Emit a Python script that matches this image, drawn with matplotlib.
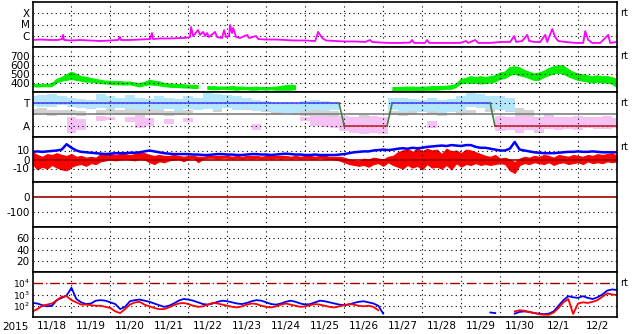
import numpy as np
import matplotlib.pyplot as plt

plt.rcParams['font.family'] = ['DejaVu Sans']
plt.rcParams['axes.unicode_minus'] = False
nan = np.nan

# time grid, hours from 2015-11-18 00UT
hours3 = np.arange(0, 361, 3)
hours6 = np.arange(0, 361, 6)
day_labels = ['11/18', '11/19', '11/20', '11/21', '11/22', '11/23', '11/24', '11/25',
              '11/26', '11/27', '11/28', '11/29', '11/30', '12/1', '12/2']

# X-ray flux (W/m2)
xray_h = [0.3, 4.6, 10.8, 15.7, 18.2, 18.8, 19.4, 23.1, 29.3, 35.4, 41.6, 47.8, 52.7, 53.9, 54.5,
          60.1, 66.2, 72.4, 73.6, 74.2, 78.6, 84.7, 90.9, 93.9, 97.0, 97.7, 98.9, 102, 103.2,
          105.1, 106.3, 107.5, 108.7, 112.4, 113.7, 116.8, 118, 119.2, 121.1, 121.7, 122.9,
          123.6, 125.4, 127.8, 132.2, 133.4, 137.7, 139, 143.3, 149.4, 155.6, 161.7, 167.9,
          174.1, 175.9, 178.4, 180.8, 186.4, 192.5, 198.7, 204.9, 207.9, 209.2, 214.1, 220.2,
          226.4, 232.6, 233.8, 235, 241.8, 243, 244.3, 251.1, 257.2, 263.4, 267.1, 268.3,
          272.6, 274.5, 281.9, 288.1, 294.2, 296.7, 297.9, 301.6, 304.7, 305.9, 309.6, 312.7,
          315.8, 317, 320.1, 321.9, 323.8, 328.1, 334.3, 339.2, 340.4, 342.3, 344.7, 349.7,
          354.6, 355.8, 360]
xray_f = [4.2e-7, 4.6e-7, 4.2e-7, 4.2e-7, 5.1e-7, 1.2e-6, 4.2e-7, 3.8e-7, 4.2e-7, 3.8e-7,
          3.4e-7, 3.8e-7, 4.2e-7, 7.7e-7, 4.2e-7, 4.2e-7, 4.6e-7, 5.1e-7, 1.75e-6, 5.1e-7,
          5.7e-7, 5.7e-7, 6.3e-7, 6.3e-7, 7.7e-7, 6.0e-6, 9.5e-7, 3.2e-6, 1.2e-6, 2.2e-6,
          9.5e-7, 1.75e-6, 7.7e-7, 2.2e-6, 7.7e-7, 6.3e-7, 3.2e-6, 7.7e-7, 9.5e-7, 9.0e-6,
          1.75e-6, 4.9e-6, 7.7e-7, 6.3e-7, 1.2e-6, 6.3e-7, 9.5e-7, 5.1e-7, 4.6e-7, 4.6e-7,
          4.2e-7, 3.8e-7, 3.8e-7, 3.4e-7, 2.2e-6, 6.3e-7, 3.8e-7, 3.4e-7, 3.1e-7, 3.1e-7,
          2.8e-7, 4.2e-7, 2.8e-7, 2.5e-7, 2.3e-7, 2.3e-7, 2.5e-7, 4.2e-7, 2.3e-7, 2.3e-7,
          4.2e-7, 2.3e-7, 2.3e-7, 2.3e-7, 2.3e-7, 3.4e-7, 2.3e-7, 4.2e-7, 2.3e-7, 2.3e-7,
          2.8e-7, 2.8e-7, 9.5e-7, 2.8e-7, 3.4e-7, 1.2e-6, 3.4e-7, 2.8e-7, 2.8e-7, 1.2e-6,
          2.8e-7, 4.0e-6, 7.7e-7, 3.4e-7, 2.8e-7, 2.3e-7, 2.3e-7, 2.6e-6, 4.2e-7, 2.3e-7,
          2.3e-7, 1.2e-6, 2.3e-7, 2.8e-7]

# solar wind speed (km/s), 3-hour band
speed_lo = ([360, 355, 360, 358, 360, 400, 420, 430, 440, 430, 420, 410, 410, 400, 395,
             390, 385, 380, 380, 378, 380, 370, 356, 370, 380, 375, 370, 360, 355, 350,
             350, 345, 345, 340, 340, nan,
             330, 325, 325, 330, 325, 325, 320, 325, 325, 320, 320, 325, 320, 325, 320,
             320, 320, 320, 325] + [nan] * 19 +
            [310, 305, 310, 310, 315, 315, 315, 320, 320, 320, 325, 330, 330, 350, 390,
             400, 395, 400, 390, 395, 400, 410, 440, 450, 480, 500, 480, 470, 450, 430,
             430, 460, 480, 500, 510, 500, 470, 450, 430, 420, 410, 400, 410, 400, 400,
             390, 350])
speed_hi = ([385, 385, 380, 385, 390, 440, 460, 490, 520, 500, 470, 465, 450, 440, 430,
             420, 420, 415, 415, 410, 410, 400, 395, 405, 430, 420, 415, 395, 390, 385,
             385, 380, 375, 375, 370, nan,
             360, 360, 355, 355, 355, 360, 355, 355, 350, 350, 355, 350, 350, 350, 355,
             360, 370, 375, 370] + [nan] * 19 +
            [350, 350, 350, 355, 355, 350, 355, 355, 360, 360, 360, 365, 370, 385, 440,
             450, 470, 460, 470, 460, 470, 480, 510, 520, 570, 580, 570, 540, 520, 500,
             510, 530, 560, 580, 590, 590, 550, 520, 500, 490, 480, 470, 480, 470, 470,
             460, 440])

# T/A panel: 6-hour ranges of the three point clouds (T=3, A=1)
cyan_lo = ([2.76, 2.7, 2.7, 2.8, 2.7, 2.6, 2.5, 2.6, 2.5, 2.6, 2.5, 2.4, 2.5, 2.4, 2.5, 2.3,
            2.5, 2.4, 2.5, 2.4, 2.6, 2.4, 2.5, 2.3, 2.3, 2.2, 2.1, 2.1, 2.3, 2.4, 2.3, 2.4]
           + [nan] * 5 + [2.4, 2.2, 2.3, 2.2, 2.3, 2.1, 2.2, 2.3, 2.7, 2.6, 2.5, 2.4, 2.3]
           + [nan] * 11)
cyan_hi = ([3.64, 3.7, 3.8, 3.6, 3.5, 3.4, 3.3, 3.8, 3.6, 3.5, 3.7, 3.5, 3.4, 3.6, 3.5, 3.4,
            3.6, 3.5, 3.9, 3.8, 3.7, 3.6, 3.5, 3.3, 3.2, 3.0, 3.0, 2.9, 3.2, 3.3, 3.2, 3.1]
           + [nan] * 5 + [3.5, 3.5, 3.4, 3.3, 3.5, 3.3, 3.4, 3.6, 3.9, 3.8, 3.6, 3.6, 3.5]
           + [nan] * 11)
gray_lo = [2.0, 2.1, 1.9, 2.0, 2.0, 1.9, nan, 2.0, 2.1, 2.0, 2.0, 1.9, 2.0, 2.0, 1.9, 2.0,
           2.1, nan, 2.6, 2.2, 2.7, 2.6, 2.4, 2.5, 2.2, 2.0, nan, 2.0, 1.9, 1.8, 1.9, 1.8,
           1.3, nan, 1.5, nan, 1.2, 2.0, 1.9, 2.0, nan, 2.0, 1.9, nan, 2.0, 2.1, nan, 2.2,
           2.4, 2.2, 1.8, 0.6, 0.4, 0.8, 0.6, 0.8, nan, 1.0, 0.9, 1.1, nan]
gray_hi = [2.5, 2.6, 2.4, 2.4, 2.4, 2.3, nan, 2.4, 2.5, 2.4, 2.5, 2.4, 2.5, 2.5, 2.3, 2.5,
           2.4, nan, 2.9, 2.6, 3.0, 3.0, 2.8, 2.9, 2.7, 2.4, nan, 2.4, 2.5, 2.4, 2.6, 2.3,
           1.9, nan, 2.0, nan, 1.6, 2.3, 2.3, 2.4, nan, 2.4, 2.2, nan, 2.3, 2.4, nan, 2.6,
           3.0, 3.2, 2.6, 2.4, 1.8, 2.0, 1.6, 1.5, nan, 1.8, 1.5, 1.9, nan]
pink_lo = ([nan, nan, nan, nan, 0.4, 0.6, nan, 1.4, 1.5, nan, 1.3, 0.8, 1.0, nan, 1.2, nan, 1.3]
           + [nan] * 6 + [0.6] + [nan] * 4 + [1.4, 1.0, 0.9, 0.8, 0.5, 0.4, 0.3, 0.4, 0.3]
           + [nan] * 4 + [0.8] + [nan] * 6
           + [0.5, 0.6, 0.4, 0.6, 0.5, 0.7, 0.6, 0.7, 0.6, 0.8, 0.7, 0.7, 0.8])
pink_hi = ([nan, nan, nan, nan, 1.8, 1.6, nan, 1.9, 1.8, nan, 1.8, 1.9, 1.7, nan, 1.6, nan, 1.7]
           + [nan] * 6 + [1.2] + [nan] * 4 + [1.8, 1.9, 1.9, 1.8, 1.9, 1.8, 1.7, 1.9, 1.8]
           + [nan] * 4 + [1.4] + [nan] * 6
           + [1.9, 1.8, 1.9, 1.9, 1.7, 1.9, 1.8, 1.8, 1.9, 1.7, 1.8, 1.9, 1.7])
mode_h = [0, 188.8, 192, 218.4, 221.5, 281.9, 284.8, 360]
mode_v = [3, 3, 1, 1, 3, 3, 1, 1]

# magnetic field (nT)
bt = [8.5, 9, 8.5, 9, 9.5, 10, 11, 17, 13, 10,
      8.5, 8, 7.5, 7, 6.5, 6, 6.5, 7, 7, 7,
      7.5, 7.5, 8, 9, 10, 9, 8, 7, 6.5, 6,
      6, 6, 6, 5.5, 5.5, 5, 5, 5.5, 6, 6,
      5.5, 5.5, 5, 5, 5.5, 6, 6, 5.5, 5.5, 5,
      5.5, 6, 6.5, 6, 5.5, 5.5, 5, 5, 5.5, 5,
      5, 5, 5, 5.5, 6, 7, 8, 8.5, 9, 9,
      10, 10.5, 11, 10.5, 11, 12, 12.5, 12, 13, 12.5,
      13, 14, 14.5, 15, 15.5, 15, 16, 15.5, 15, 16,
      16, 14, 13, 13, 12, 11, 10, 10, 12, 19.5,
      11, 10, 9, 8, 7.5, 7, 7, 7, 7.5, 8,
      8.5, 8.5, 9, 8.5, 8.5, 9, 8.5, 8, 8, 8, 8]
bz_lo = [-5, -11, -8, -10, -6, -9, -11, -12, -8, -6,
         -5, -7, -4, -5, -2, -1, 0, -1, 0, 1,
         0, -1, 1, 0, -3, -5, -2, -3, -1, 0,
         1, -2, 1, 2, -3, 1, 2, 2, 1, 2,
         2, 1, 2, 1, 2, 1, 2, 1, 2, 1,
         2, 1, 2, 1, 2, 1, 2, 1, 1, 2,
         1, 1, 0, -1, -3, -5, -6, -7, -6, -8,
         -5, -4, -7, -3, -6, -8, -10, -6, -9, -7,
         -11, -5, -9, -8, -10, -6, -11, -4, -8, -5,
         -6, -4, -6, -5, -6, -5, -4, -5, -12, -15,
         -6, -4, -5, -3, -4, -5, -3, -6, -4, -3,
         -5, -4, -3, -5, -2, -4, -3, -4, -2, -3, -2]
bz_hi = [8, 5, 3, 6, 5, 7, 5, 4, 6, 3,
         4, 2, 3, 2, 6, 7, 6, 5, 6, 6,
         5, 6, 8, 7, 5, 4, 5, 4, 4, 5,
         4, 3, 4, 4, 3, 3, 4, 4, 4, 4,
         4, 3, 4, 3, 4, 4, 4, 3, 4, 4,
         4, 4, 4, 3, 4, 3, 4, 4, 3, 4,
         4, 3, 3, 3, 2, 0, -1, -2, 1, 0,
         2, 1, 0, 3, 4, 8, 10, 12, 8, 13,
         9, 12, 10, 11, 6, 12, 9, 10, 7, 11,
         10, 8, 6, 4, 3, 5, 1, 2, 0, -3,
         1, 3, 2, 4, 3, 5, 4, 2, 5, 4,
         3, 5, 4, 3, 5, 4, 6, 5, 6, 7, 4]

# particle flux, log10
flux_blue = ([2.25, 2.2, 2.05, 1.95, 2.0, 2.5, 2.7, 2.9, 3.6, 2.6,
              2.3, 2.15, 2.2, 2.45, 2.5, 2.45, 2.3, 2.15, 1.7, 1.9,
              2.4, 2.5, 2.55, 2.45, 2.35, 2.2, 2.05, 1.9, 2.0, 2.2,
              2.45, 2.6, 2.55, 2.45, 2.3, 2.15, 2.1, 2.2, 2.35, 2.45,
              2.4, 2.3, 2.2, 2.15, 2.25, 2.4, 2.5, 2.45, 2.3, 2.15,
              2.1, 2.2, 2.35, 2.45, 2.35, 2.2, 2.1, 2.15, 2.3, 2.45,
              2.4, 2.3, 2.2, 2.1, 2.05, 2.1, 2.25, 2.35, 2.4, 2.3,
              2.2, 2.0, 1.3] + [nan] * 21 + [1.4, 1.35, nan, nan, nan, 1.3,
              1.45, 1.5, 1.45, 1.35, 1.3, 1.25, 1.3, 1.5, 2.0, 2.5,
              2.85, 2.75, 2.7, 2.85, 2.7, 2.6, 2.75, 3.0, 3.35, 3.45, 3.4])
flux_red = ([1.5, 1.7, 2.0, 2.1, 2.2, 2.5, 2.8, 2.85, 2.5, 2.3,
             2.1, 2.1, 2.05, 2.0, 2.0, 1.9, 1.8, 1.5, 1.35, 1.7,
             2.1, 2.3, 2.35, 2.1, 1.95, 1.8, 1.7, 1.7, 1.85, 2.05,
             2.2, 2.25, 2.15, 2.0, 1.9, 1.95, 2.1, 2.25, 2.2, 2.1,
             2.0, 1.9, 1.85, 1.95, 2.1, 2.2, 2.15, 2.0, 1.9, 1.85,
             1.95, 2.1, 2.2, 2.1, 2.0, 1.9, 1.95, 2.05, 2.15, 2.1,
             2.0, 1.9, 1.85, 1.95, 2.05, 2.15, 2.1, 2.0, 1.95, 2.0,
             1.9, 1.6] + [nan] * 27 + [1.5,
             1.6, 1.55, 1.45, 1.35, 1.25, 1.2, 1.2, 1.4, 1.8, 2.3,
             2.6, 1.27, 2.2, 2.3, 2.25, 2.35, 2.5, 2.8, 3.1, 3.0, 2.95])

FS = 7.5
dot = dict(color='black', lw=0.8, linestyle=(0, (1, 3)))
d3 = hours3 / 24
d6 = hours6 / 24

fig, axes = plt.subplots(7, 1, figsize=(6.33, 3.34), dpi=100, sharex=True)
fig.subplots_adjust(left=32.5 / 633, right=617 / 633, top=1 - 2 / 334,
                    bottom=1 - 317 / 334, hspace=0)

for ax in axes:
    ax.set_xlim(0, 15)
    for d in range(1, 15):
        ax.axvline(d, **dot)
    for s in ax.spines.values():
        s.set_linewidth(1.2)
    ax.tick_params(length=0, labelsize=FS, pad=2)

def rt(ax, y):
    ax.text(1.006, y, 'rt', transform=ax.get_yaxis_transform(), fontsize=7,
            ha='left', va='center')

# 1. X-ray
ax = axes[0]
ax.set_yscale('log')
ax.set_ylim(1e-7, 1e-3)
for v in [1e-4, 1e-5, 1e-6]:
    ax.axhline(v, **dot)
ax.plot(np.array(xray_h) / 24, xray_f, color='#ff00ff', lw=1.3)
ax.set_yticks([1e-4, 1e-5, 1e-6], ['X', 'M', 'C'])
ax.minorticks_off()
rt(ax, 1e-4)

# 2. speed
ax = axes[1]
ax.set_ylim(300, 800)
for v in [700, 600, 500, 400]:
    ax.axhline(v, **dot)
ax.fill_between(d3, speed_lo, speed_hi, color='#00f000', lw=0.8, edgecolor='#00f000')
ax.set_yticks([700, 600, 500, 400])
rt(ax, 700)

# 3. T/A
ax = axes[2]
ax.set_ylim(0, 4)
for v in [3, 1]:
    ax.axhline(v, **dot)
w = 6.0 / 24
ax.bar(d6, np.array(gray_hi) - np.array(gray_lo), bottom=gray_lo, width=w,
       color='#d2d2d2', lw=0)
ax.bar(d6, np.array(pink_hi) - np.array(pink_lo), bottom=pink_lo, width=w,
       color='#f6c2f6', lw=0)
ax.bar(d6, np.array(cyan_hi) - np.array(cyan_lo), bottom=cyan_lo, width=w,
       color='#b4e6fc', lw=0)
ax.axhline(2, color='#808080', lw=1.2)
for i in range(len(mode_h) - 1):
    a, b = mode_v[i], mode_v[i + 1]
    c = '#4848ff' if a == b == 3 else ('#c02828' if a == b == 1 else '#4a7a4a')
    ax.plot([mode_h[i] / 24, mode_h[i + 1] / 24], [a, b], color=c, lw=1.2)
ax.set_yticks([3, 1], ['T', 'A'])
rt(ax, 3)

# 4. Bt / Bz
ax = axes[3]
ax.set_ylim(-25, 25)
for v in [10, -10]:
    ax.axhline(v, **dot)
ax.axhline(0, color='#a00000', lw=1.2)
ax.plot(d3, bt, color='#0000ff', lw=1.8)
ax.fill_between(d3, bz_lo, bz_hi, color='#ff0000', lw=0.8, edgecolor='#ff0000')
ax.set_yticks([10, 0, -10])
rt(ax, 14)

# 5. Dst
ax = axes[4]
ax.set_ylim(-200, 100)
ax.axhline(-100, **dot)
ax.axhline(0, color='#a00000', lw=1.2)
ax.set_yticks([0, -100])

# 6. empty index panel
ax = axes[5]
ax.set_ylim(0, 80)
for v in [60, 40, 20]:
    ax.axhline(v, **dot)
ax.set_yticks([60, 40, 20])

# 7. particle flux
ax = axes[6]
ax.set_yscale('log')
ax.set_ylim(1e1, 1e5)
for v in [1e3, 1e2]:
    ax.axhline(v, **dot)
ax.axhline(1e4, color='#a00000', lw=1.0, linestyle=(0, (7, 2, 1, 2)))
ax.plot(d3, 10 ** np.array(flux_blue), color='#0000ff', lw=1.3)
ax.plot(d3, 10 ** np.array(flux_red), color='#ff0000', lw=1.3)
ax.set_yticks([1e4, 1e3, 1e2], [r'$\mathregular{10^4}$', r'$\mathregular{10^3}$',
                                 r'$\mathregular{10^2}$'])
ax.tick_params(axis='y', labelsize=6.5)
ax.minorticks_off()
rt(ax, 1e4)

ax.set_xticks(np.arange(15) + 0.5, day_labels)
ax.tick_params(axis='x', pad=3)
fig.text(15 / 633, 1 - 327 / 334, '2015', ha='center', va='center', fontsize=FS)

fig.savefig('out.png', dpi=100)
